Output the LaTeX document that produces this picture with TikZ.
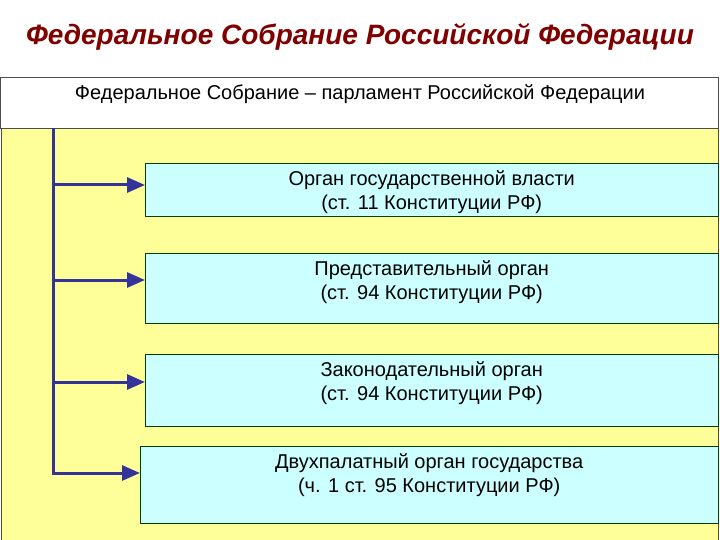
\documentclass[tikz,border=0pt]{standalone}
\usepackage{fontspec}
\setmainfont{Liberation Sans}
\usetikzlibrary{arrows.meta}
\definecolor{titlered}{HTML}{800000}
\definecolor{paleyellow}{HTML}{FFFF99}
\definecolor{palecyan}{HTML}{CCFFFF}
\definecolor{arrowblue}{HTML}{333399}
\newcommand*{\trunkx}{53}
\newcommand*{\rightx}{718}
\tikzset{
	headbox/.style={
		draw=black!70,
		fill=white,
		anchor=north west,
		minimum width=\rightx pt,
		minimum height=51pt,
		inner sep=0pt
	},
	field/.style={
		draw=black!55!olive,
		fill=paleyellow
	},
	organ/.style={
		draw=black!75!green,
		fill=palecyan,
		anchor=north west,
		inner sep=0pt
	},
	organtext/.style={
		anchor=north,
		align=center,
		inner sep=0pt,
		font=\fontsize{20}{24}\selectfont
	},
	feed/.style={
		draw=arrowblue,
		line width=3pt,
		-{Triangle[length=18pt,width=15pt]}
	}
}
\begin{document}
\begin{tikzpicture}[x=1pt,y=-1pt]
	\useasboundingbox[fill=white] (0,0) rectangle (720,540);
	\node (title) at (360,37) [text=titlered,font=\fontsize{28}{32}\selectfont\bfseries\itshape] {Федеральное Собрание Российской Федерации};
	\fill[field] (1,128) rectangle (\rightx,541);
	\node (head) [headbox] at (0,77) {};
	\node (headtext) at (360,94) [font=\fontsize{20}{24}\selectfont] {Федеральное Собрание – парламент Российской Федерации};
	\coordinate (top) at (\trunkx,128);
	\foreach \i/\xl/\yt/\h/\ya/\la/\lb in {%
		1/145/163/53/185/{Орган государственной власти}/{(ст. 11 Конституции РФ)},%
		2/145/253/70/280/{Представительный орган}/{(ст. 94 Конституции РФ)},%
		3/145/354/72/382/{Законодательный орган}/{(ст. 94 Конституции РФ)},%
		4/140/446/77/473/{Двухпалатный орган государства}/{(ч. 1 ст. 95 Конституции РФ)}%
	} {
		\node (b\i) [organ,minimum width=\rightx pt-\xl pt,minimum height=\h pt] at (\xl,\yt) {};
		\node (t\i) [organtext] at ([yshift=-7pt]b\i.north) {\la\\\lb};
		\coordinate (j\i) at (\trunkx,\ya);
	};
	\draw[feed] (top) |- (b4.west |- j4);
	\foreach \i in {1,2,3} {
		\draw[feed] (j\i) -- (b\i.west |- j\i);
	};
\end{tikzpicture}
\end{document}
